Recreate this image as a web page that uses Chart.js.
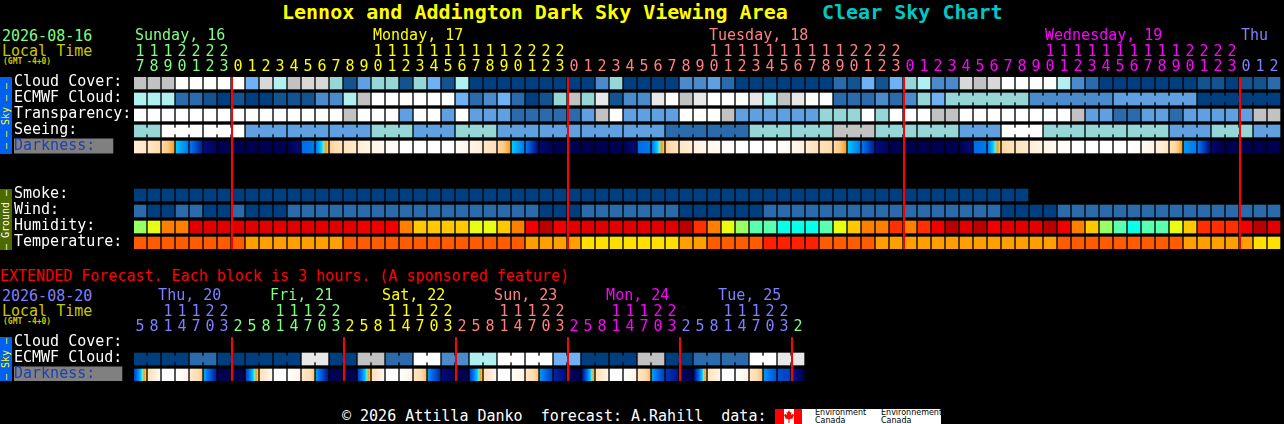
<!DOCTYPE html>
<html>
<head>
<meta charset="utf-8">
<title>Clear Sky Chart</title>
<script src="https://cdn.jsdelivr.net/npm/chart.js@4/dist/chart.umd.min.js"></script>
<style>
html, body { margin: 0; padding: 0; background: #000; width: 1284px; height: 424px; overflow: hidden; }
body { position: relative; font-family: "DejaVu Sans Mono", monospace; font-size: 15px; }
canvas { position: absolute; left: 0; }
.t { position: absolute; white-space: pre; line-height: 16px; }
.gmt { font-size: 8px; line-height: 8px; font-weight: bold; color: #c8c800; }
.side { position: absolute; left: 0; width: 12px; overflow: hidden; }
.side span { position: absolute; left: 6px; top: 50%; transform: translate(-50%, -50%) rotate(-90deg);
  white-space: pre; font-size: 10px; line-height: 12px; }
#logo { position: absolute; left: 775px; top: 409px; width: 166px; height: 15px; background: #fff; overflow: hidden; color: #000;
  font-family: "DejaVu Sans", sans-serif; font-size: 8px; line-height: 7px; }
#logo i { position: absolute; top: 0; height: 15px; background: #f00; }
#logo b { position: absolute; top: 0; font-weight: normal; white-space: pre; }
</style>
</head>
<body>

<div class="t" style="left:282px;top:1px;font-size:20px;line-height:22px;font-weight:bold;color:#ffff00">Lennox and Addington Dark Sky Viewing Area</div>
<div class="t" style="left:822px;top:1px;font-size:20px;line-height:22px;font-weight:bold;color:#00c8c8">Clear Sky Chart</div>

<div class="t" style="left:2px;top:28px;color:#80ff80">2026-08-16</div>
<div class="t" style="left:2px;top:43px;color:#c8c800">Local Time</div>
<div class="t gmt" style="left:3px;top:58px">(GMT -4+0)</div>

<div class="side" style="top:77px;height:77px;background:#0060f0;color:#ffff00"><span>— — Sky — —</span></div>
<div class="side" style="top:189px;height:61px;background:#4c6a00;color:#fff"><span>— Ground —</span></div>

<div class="t" style="left:0;top:268px;color:#ff0000">EXTENDED Forecast. Each block is 3 hours. (A sponsored feature)</div>

<div class="t" style="left:2px;top:288px;color:#8080ff">2026-08-20</div>
<div class="t" style="left:2px;top:303px;color:#c8c800">Local Time</div>
<div class="t gmt" style="left:3px;top:318px">(GMT -4+0)</div>

<div class="side" style="top:337px;height:44px;background:#0060f0;color:#ffff00"><span>— Sky —</span></div>

<canvas id="mainChart" width="1284" height="249" style="top:0"></canvas>
<canvas id="extChart" width="1284" height="96" style="top:285px"></canvas>

<div class="t" style="left:342px;top:408px;color:#fff">© 2026 Attilla Danko  forecast: A.Rahill  data:</div>
<div id="logo">
  <i style="left:0;width:9px"></i><i style="left:19px;width:8px"></i>
  <svg style="position:absolute;left:9px;top:1px" width="10" height="13" viewBox="0 0 10 13">
    <polygon fill="#f00" points="5,0 6.2,2.5 7.5,2 7,5 9,3.8 10,5.5 8.6,7.6 9,8.6 6,9 5.5,9.5 5.5,13 4.5,13 4.5,9.5 4,9 1,8.6 1.4,7.6 0,5.5 1,3.8 3,5 2.5,2 3.8,2.5"/>
  </svg>
  <b style="left:40px;top:0">Environment</b><b style="left:40px;top:8px">Canada</b>
  <b style="left:106px;top:0">Environnement</b><b style="left:106px;top:8px">Canada</b>
</div>

<script>
// --- DATOS ---
// hours along the top of the chart
const hours = [17, 18, 19, 20, 21, 22, 23,
    0, 1, 2, 3, 4, 5, 6, 7, 8, 9, 10, 11, 12, 13, 14, 15, 16, 17, 18, 19, 20, 21, 22, 23,
    0, 1, 2, 3, 4, 5, 6, 7, 8, 9, 10, 11, 12, 13, 14, 15, 16, 17, 18, 19, 20, 21, 22, 23,
    0, 1, 2, 3, 4, 5, 6, 7, 8, 9, 10, 11, 12, 13, 14, 15, 16, 17, 18, 19, 20, 21, 22, 23,
    0, 1, 2];
const hourDays = [7, 24, 24, 24, 3]; // how many columns belong to each day
const dayNames = ['Sunday, 16', 'Monday, 17', 'Tuesday, 18', 'Wednesday, 19', 'Thu'];
const dayLabelCols = [0, 17, 41, 65, 79];
const midnights = [7, 31, 55, 79];
const rowLabels = ['Cloud Cover:', 'ECMWF Cloud:', 'Transparency:', 'Seeing:', 'Darkness:', '', '',
    'Smoke:', 'Wind:', 'Humidity:', 'Temperature:'];

// sky levels, index into skyColors
const cloudCover = [8, 8, 8, 11, 11, 11, 11, 11, 5, 9, 7, 8, 9, 9, 6, 1, 4, 6, 6, 1, 6,
    5, 1, 7, 0, 0, 0, 0, 0, 0, 0, 0, 0, 3, 6, 0, 0, 0, 0, 3, 3, 4, 2, 0, 0, 0, 0, 0, 0, 0, 2, 1,
    5, 1, 5, 6, 7, 3, 3, 9, 8, 9, 11, 11, 11, 11, 7, 3, 2, 0, 0, 0, 0, 0, 0, 0, 1, 1, 0, 1, 1, 2];
const ecmwfCloud = [7, 7, 7, 2, 2, 1, 0, 1, 0, 0, 1, 1, 1, 3, 3, 7, 8, 11, 11, 11, 11,
    11, 11, 5, 2, 3, 5, 2, 0, 1, 6, 8, 6, 10, 1, 3, 3, 10, 11, 8, 10, 11, 11, 11, 10, 7, 8, 10, 11, 11, 2, 2,
    2, 3, 2, 3, 6, 5, 6, 6, 6, 6, 6, 6, 3, 3, 3, 3, 3, 3, 4, 4, 4, 4, 4, 4, 0, 0, 0, 0, 0, 0];
const ecmwfBlocks = new Array(58).fill(1).concat([6, 6, 6, 6]);
const transparency = [11, 11, 11, 11, 11, 11, 11, 11, 11, 11, 11, 11, 11, 11, 11, 8, 11, 11, 11, 4, 11,
    11, 4, 11, 4, 4, 4, 2, 2, 2, 2, 2, 4, 8, 11, 4, 4, 4, 4, 11, 11, 11, 8, 4, 4, 4, 4, 4, 4, 6, 6, 6,
    11, 6, 11, 11, 11, 8, 8, 11, 11, 11, 11, 11, 11, 11, 11, 8, 4, 4, 2, 2, 4, 4, 2, 4, 4, 4, 4, 4, 8, 8];
const seeingLevels = [6, 11, 11, 4, 4, 4, 6, 4, 6, 4, 4, 4, 4, 2, 2, 6, 6, 8, 6, 6, 4, 11, 6, 6, 6, 4, 6, 4];
const seeingBlocks = [2, 3, 3, 3, 3, 3, 3, 3, 3, 3, 3, 3, 3, 3, 3, 3, 3, 3, 3, 3, 3, 3, 3, 3, 3, 3, 3, 2];
const darkStart = [1.5, 2, 3, 5, 6, 8, 9, 9, 9, 9, 9, 9, 6.2, 6, 3.3, 2.3, 1.5, 1, 0.5, 0, 0,
    0, 0, 0.3, 1, 1.8, 3, 5, 6, 8.3, 9, 9, 9, 9, 9, 9, 6.2, 6, 3.3, 2, 1.2, 0.7, 0.3, 0, 0, 0, 0.2, 0.8, 1.6, 2.5, 3, 5,
    6, 8, 9, 9, 9, 9, 9, 9, 6.2, 6, 3.2, 2.2, 1.4, 0.9, 0.3, 0, 0, 0, 0, 0, 0.5, 1.2, 2.6, 5.6, 6, 8.5, 9, 9, 9, 9];
const darkEnd = [2, 3, 4, 6, 7.6, 8.7, 9, 9, 9, 9, 9, 8, 6, 3.6, 2.3, 1.7, 1, 0.5, 0.2, 0, 0,
    0, 0.2, 0.8, 1.5, 2.5, 4, 6, 8, 8.8, 9, 9, 9, 9, 9, 8, 6, 3.6, 2.2, 1.5, 0.8, 0.4, 0.1, 0, 0, 0, 0.6, 1.3, 2.4, 3.1, 4, 6,
    7.6, 8.7, 9, 9, 9, 9, 9, 8, 6, 3.5, 2.3, 1.7, 1, 0.5, 0.1, 0, 0, 0, 0, 0.3, 1, 2, 4, 6, 8, 9, 9, 9, 9, 9];

// ground rows
const smoke = [0, 0, 0, 0, 0, 0, 0, 0, 0, 0, 0, 0, 0, 0, 0, 0, 0, 0, 0, 0, 0, 0, 0, 0, 0, 0, 0, 0, 0, 0, 0, 0,
    0, 0, 0, 0, 0, 0, 0, 0, 0, 0, 0, 0, 0, 0, 0, 0, 0, 0, 0, 0, 0, 0, 0, 0, 0, 0, 0, 0, 0, 0, 0, 0];
const wind = [2, 0, 0, 2, 2, 0, 0, 2, 0, 0, 0, 2, 2, 2, 2, 2, 2, 2, 2, 2, 2, 2, 2, 2, 2, 2, 2, 2, 2,
    0, 0, 0, 2, 2, 2, 2, 2, 2, 2, 0, 0, 0, 0, 0, 0, 2, 2, 2, 2, 2, 2, 2, 2, 2, 2, 2, 2, 2, 2, 2, 2, 2,
    0, 0, 0, 0, 2, 2, 2, 2, 2, 2, 2, 2, 2, 2, 2, 2, 2, 2, 2, 2];
const humidity = [2, 3, 5, 5, 8, 8, 8, 8, 8, 8, 8, 8, 8, 8, 8, 8, 7, 7, 7, 5, 4,
    4, 4, 4, 3, 3, 4, 5, 7, 9, 7, 8, 8, 8, 8, 8, 8, 8, 8, 9, 6, 5, 3, 2, 1, 1, 0, 0, 0, 1, 3, 4,
    5, 5, 6, 5, 6, 7, 9, 8, 9, 7, 8, 8, 8, 9, 7, 5, 4, 2, 1, 0, 1, 1, 3, 4, 6, 6, 6, 7, 9, 8];
const temperature = [1, 1, 1, 1, 1, 1, 1, 1, 2, 2, 2, 2, 2, 2, 2, 1, 1, 1, 1, 1, 1,
    1, 1, 1, 1, 1, 1, 1, 2, 2, 2, 2, 3, 3, 3, 3, 3, 3, 3, 2, 2, 1, 1, 1, 1, 0, 0, 0, 0, 1, 1, 1,
    1, 2, 2, 2, 2, 2, 2, 2, 2, 2, 2, 2, 2, 2, 1, 1, 1, 1, 1, 1, 1, 1, 1, 2, 2, 2, 2, 2, 3, 3];

// extended forecast
const extHours = [5, 8, 11, 14, 17, 20, 23, 2, 5, 8, 11, 14, 17, 20, 23, 2, 5, 8, 11, 14, 17, 20, 23, 2,
    5, 8, 11, 14, 17, 20, 23, 2, 5, 8, 11, 14, 17, 20, 23, 2, 5, 8, 11, 14, 17, 20, 23, 2];
const extHourDays = [7, 8, 8, 8, 8, 8, 1];
const extDayNames = ['Thu, 20', 'Fri, 21', 'Sat, 22', 'Sun, 23', 'Mon, 24', 'Tue, 25'];
const extDayLabelCols = [1.65, 9.65, 17.65, 25.65, 33.65, 41.65];
const extMidnights = [7, 15, 23, 31, 39, 47];
const extRowLabels = ['Cloud Cover:', 'ECMWF Cloud:', 'Darkness:'];
const extEcmwfLevels = [0, 0, 2, 0, 0, 0, 10, 0, 8, 2, 11, 3, 7, 11, 11, 5, 0, 0, 8, 0, 2, 2, 11, 10];
const extEcmwfBlocks = [2, 2, 2, 2, 2, 2, 2, 2, 2, 2, 2, 2, 2, 2, 2, 2, 2, 2, 2, 2, 2, 2, 2, 2];
const extDarkStart = [7, 2.5, 0, 0, 1.8, 5.4, 9, 9, 7, 2.5, 0, 0.2, 1.8, 5.5, 9, 9, 7, 2.5, 0, 0.2, 2, 5.6, 8, 9,
    7, 2.5, 0, 0.3, 2, 5.6, 7.5, 8.8, 8, 2.5, 0, 0.2, 2, 5.5, 7.2, 8.6, 8, 2.3, 0, 0.2, 2, 5.6, 6.7, 7.5];
const extDarkEnd = [3.5, 0.7, 0, 1, 3.5, 7.6, 9, 9, 3.5, 0.7, 0, 1, 3.5, 7.8, 9, 9, 3.6, 0.7, 0, 1, 3.7, 7.4, 8.8, 9,
    3.6, 0.8, 0, 1, 3.6, 7, 8, 9, 3.7, 1, 0, 1, 3.7, 7, 7.8, 9, 3.6, 1, 0, 1, 3.7, 6.6, 7, 9];

// --- COLORES ---
const skyColors = ['#003f7f', '#13538f', '#2b6bab', '#4b8bcb', '#60a0e0', '#70b0f4', '#96d6d6', '#b0f0f0',
    '#c2c2c2', '#d8d8d8', '#e8e8e8', '#ffffff'];
const humidityColors = ['#08ffe8', '#5affaf', '#98ff64', '#e8ff14', '#ffc800', '#ff8000', '#ff3000', '#f00000', '#e00000', '#b80000'];
const temperatureColors = ['#ff2000', '#ff5c00', '#ffa000', '#ffe000'];
const darkStops = [0, 1, 2, 3, 3.5, 4, 4.5, 5, 6, 7, 8, 9];
const darkColors = ['#ffffff', '#fff4e6', '#ffe6c4', '#ffdcac', '#ffc880', '#f8a020', '#70e8c8', '#00c8ff', '#0078f0', '#0040c0', '#000c78', '#000050'];
const dayColors = ['#80ff80', '#ffff00', '#ff8080', '#ff00ff', '#8080ff'];
const extDayColors = ['#8080ff', '#80ff80', '#ffff00', '#ff8080', '#ff00ff', '#8080ff', '#80ff80'];

const FONT = '"DejaVu Sans Mono", monospace';
const PITCH = 14;             // one column
const CELL = 12;              // drawn block, the rest is the black gap
const ROW = 0.75;             // block height, in rows of 16px
const CELL_MID = (CELL / 2) / PITCH;

function expand(levels, blocks) {
    const out = [];
    levels.forEach((v, i) => { for (let k = 0; k < blocks[i]; k++) out.push(v); });
    return out;
}

function cellRow(values, row, colors) {
    return {
        data: values.map((v, i) => ({ x: i + CELL_MID, y: [row, row + ROW] })),
        backgroundColor: values.map(v => colors[v]),
        barThickness: CELL,
        grouped: false,
        borderWidth: 0
    };
}

// small piece that joins the blocks of one forecast step
function bridgeRow(values, blocks, row) {
    const data = [];
    const colors = [];
    let col = 0;
    blocks.forEach(len => {
        for (let k = 1; k < len; k++) {
            data.push({ x: col + k - 1 / PITCH, y: [row + 3 / 16, row + 9 / 16] });
            colors.push(skyColors[values[col]]);
        }
        col += len;
    });
    return { data, backgroundColor: colors, barThickness: 2, grouped: false, borderWidth: 0 };
}

function hexToRgb(hex) {
    return [1, 3, 5].map(i => parseInt(hex.substr(i, 2), 16));
}

function darkColorAt(v) {
    let i = 0;
    while (i < darkStops.length - 2 && v > darkStops[i + 1]) i++;
    const t = (v - darkStops[i]) / (darkStops[i + 1] - darkStops[i]);
    const a = hexToRgb(darkColors[i]);
    const b = hexToRgb(darkColors[i + 1]);
    const c = a.map((n, k) => Math.round(n + (b[k] - n) * t));
    return `rgb(${c[0]},${c[1]},${c[2]})`;
}

function darkRow(starts, ends, row) {
    const ds = cellRow(starts, row, []);
    ds.backgroundColor = ctx => {
        if (ctx.dataIndex === undefined) return '#000';
        const i = ctx.dataIndex;
        const x0 = ctx.chart.scales.x.getPixelForValue(i);
        // the scale has no size yet on the first pass
        if (!isFinite(x0)) return '#000';
        const g = ctx.chart.ctx.createLinearGradient(x0, 0, x0 + CELL, 0);
        const a = starts[i], b = ends[i];
        g.addColorStop(0, darkColorAt(a));
        if (a !== b) {
            darkStops.forEach((s, k) => {
                if (s > Math.min(a, b) && s < Math.max(a, b)) g.addColorStop((s - a) / (b - a), darkColors[k]);
            });
        }
        g.addColorStop(1, darkColorAt(b));
        return g;
    };
    return ds;
}

// day names sit over the hour digits
const dayLabelsPlugin = {
    id: 'dayLabels',
    afterDraw(chart, args, opts) {
        const { ctx, scales } = chart;
        ctx.save();
        ctx.font = '15px ' + FONT;
        ctx.textBaseline = 'alphabetic';
        ctx.textAlign = 'left';
        opts.names.forEach((name, i) => {
            ctx.fillStyle = opts.colors[i];
            ctx.fillText(name, scales.x.getPixelForValue(opts.cols[i]) + 1, chart.chartArea.top - 37);
        });
        ctx.restore();
    }
};

function colorForCol(col, dayLengths, colors) {
    let end = 0;
    for (let i = 0; i < dayLengths.length; i++) {
        end += dayLengths[i];
        if (col < end) return colors[i];
    }
    return colors[colors.length - 1];
}

function buildChart(id, cfg) {
    return new Chart(document.getElementById(id), {
        type: 'bar',
        data: { datasets: cfg.datasets },
        plugins: [dayLabelsPlugin],
        options: {
            responsive: false,
            animation: false,
            devicePixelRatio: 1,
            layout: { padding: { left: 14, right: 1284 - 134 - cfg.hours.length * PITCH, top: 0, bottom: 0 } },
            plugins: {
                legend: { display: false },
                tooltip: { enabled: false },
                dayLabels: { names: cfg.names, cols: cfg.nameCols, colors: cfg.nameColors }
            },
            scales: {
                x: {
                    type: 'linear',
                    position: 'top',
                    min: 0,
                    max: cfg.hours.length,
                    offset: false,
                    // keep the plot area where it is, whatever the labels want
                    afterFit: s => { s.height = cfg.top; s.paddingLeft = 0; s.paddingRight = 0; },
                    border: { display: false, color: 'rgba(0,0,0,0)' },
                    grid: {
                        z: 1,
                        offset: false,
                        lineWidth: 2,
                        drawTicks: false,
                        color: ctx => ctx.tick && cfg.midnights.includes(ctx.tick.value) ? '#ff0000' : 'rgba(0,0,0,0)'
                    },
                    ticks: {
                        stepSize: 1,
                        autoSkip: false,
                        maxRotation: 0,
                        labelOffset: CELL / 2,
                        padding: 2,
                        font: { family: FONT, size: 15, lineHeight: 1 },
                        color: ctx => colorForCol(ctx.tick.value, cfg.dayLengths, cfg.dayColors),
                        callback: v => {
                            const h = cfg.hours[v];
                            if (h === undefined) return '';
                            return [h < 10 ? ' ' : String(Math.floor(h / 10)), String(h % 10)];
                        }
                    }
                },
                y: {
                    type: 'linear',
                    reverse: true,
                    min: 0,
                    max: cfg.rows.length - 1 + ROW,
                    afterFit: s => { s.width = 120; s.paddingTop = 0; s.paddingBottom = 0; },
                    border: { display: false },
                    grid: { display: false },
                    ticks: {
                        stepSize: 1,
                        includeBounds: false,
                        autoSkip: false,
                        crossAlign: 'far',
                        padding: 0,
                        labelOffset: 5,
                        font: { family: FONT, size: 15, lineHeight: 1 },
                        color: ctx => cfg.rows[ctx.tick.value] === 'Darkness:' ? '#2040b0' : '#ffffff',
                        showLabelBackdrop: true,
                        backdropColor: ctx => cfg.rows[ctx.tick.value] === 'Darkness:' ? '#808080' : 'rgba(0,0,0,0)',
                        backdropPadding: { left: 0, right: cfg.darkPad, top: 0, bottom: 0 },
                        callback: v => cfg.rows[v] || ''
                    }
                }
            }
        }
    });
}

const seeing = expand(seeingLevels, seeingBlocks);
const extEcmwf = expand(extEcmwfLevels, extEcmwfBlocks);

buildChart('mainChart', {
    hours: hours,
    rows: rowLabels,
    top: 77,
    darkPad: 18,
    midnights: midnights,
    dayLengths: hourDays,
    dayColors: dayColors,
    names: dayNames,
    nameCols: dayLabelCols,
    nameColors: dayColors,
    datasets: [
        cellRow(cloudCover, 0, skyColors),
        cellRow(ecmwfCloud, 1, skyColors),
        bridgeRow(ecmwfCloud, ecmwfBlocks, 1),
        cellRow(transparency, 2, skyColors),
        cellRow(seeing, 3, skyColors),
        bridgeRow(seeing, seeingBlocks, 3),
        darkRow(darkStart, darkEnd, 4),
        cellRow(smoke, 7, skyColors),
        cellRow(wind, 8, skyColors),
        cellRow(humidity, 9, humidityColors),
        cellRow(temperature, 10, temperatureColors)
    ]
});

buildChart('extChart', {
    hours: extHours,
    rows: extRowLabels,
    top: 52,
    darkPad: 27,
    midnights: extMidnights,
    dayLengths: extHourDays,
    dayColors: extDayColors,
    names: extDayNames,
    nameCols: extDayLabelCols,
    nameColors: extDayColors,
    datasets: [
        cellRow(extEcmwf, 1, skyColors),
        bridgeRow(extEcmwf, extEcmwfBlocks, 1),
        darkRow(extDarkStart, extDarkEnd, 2)
    ]
});
</script>
</body>
</html>
